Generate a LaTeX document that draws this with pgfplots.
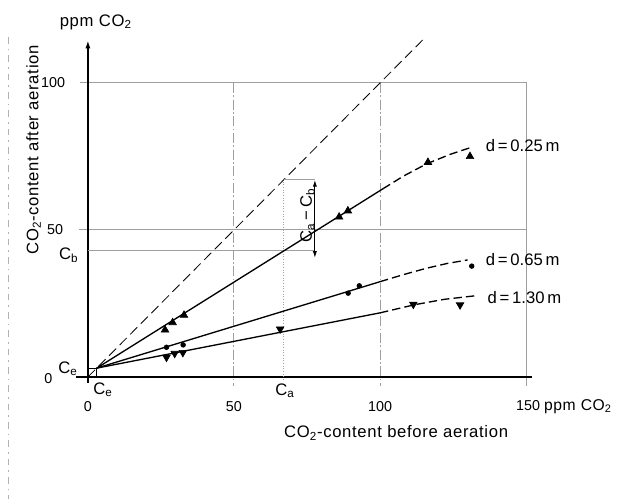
\documentclass[border=0pt]{standalone}
\usepackage{pgfplots}
\pgfplotsset{compat=1.18}
\usepackage{fontspec}
\setmainfont{Liberation Sans}
\newfontfamily\spaced[LetterSpace=4]{Liberation Sans}
\usetikzlibrary{arrows.meta}
\tikzset{tick lbl/.style={font=\fontsize{8.6}{10}\selectfont}}

\begin{document}
\begin{tikzpicture}
\begin{axis}[
  scale only axis, width=372.6pt, height=299.4pt,
  xmin=-30.1, xmax=182.5, ymin=-41.5, ymax=128.2,
  hide axis, clip=false,
  every node/.append style={font=\fontsize{9}{10}\selectfont, inner sep=1pt},
]
% page frame (keeps the picture's proportions)
\addplot[draw=none, forget plot] coordinates {(-30.1,-41.5) (182.5,128.2)};

% scan edge on the left
\draw[gray!60, line width=0.4pt, dash pattern=on 4pt off 3pt on 1pt off 3pt] (-27.4,115.6) -- (-27.4,-41.5);

% grid frame
\draw[gray!75, line width=0.6pt] (-2.7,100) -- (150,100) -- (150,-3);
\draw[gray!75, line width=0.6pt] (-3,50) -- (150,50);
\draw[gray!75, line width=0.6pt, dash pattern=on 6pt off 1.5pt on 1pt off 1.5pt] (50,100) -- (50,-3);
\draw[gray!75, line width=0.6pt, dash pattern=on 6pt off 1.5pt on 1pt off 1.5pt] (100,100) -- (100,-3);

% axes
\draw[black, line width=1.1pt] (-4,0) -- (152,0);
\draw[black, line width=1.1pt, -{Latex[length=5pt,width=3pt]}] (0,-2) -- (0,114.6);

% y = x
\draw[black, line width=0.5pt, dash pattern=on 6pt off 3pt] (0,0) -- (115,115);

% construction of Ca - Cb
\draw[gray!75, line width=0.6pt, densely dotted] (67,-1) -- (67,67);
\draw[gray!75, line width=0.6pt] (67,67) -- (77.7,67);
\draw[gray!75, line width=0.6pt] (0,43) -- (77.7,43);
\draw[black, line width=0.6pt, {Latex[length=4pt,width=2.5pt]}-{Latex[length=4pt,width=2.5pt]}] (77.7,67) -- (77.7,40.5);
\node[rotate=90] at (75.2,55) {C\textsubscript{a}\,−\,C\textsubscript{b}};

% Ce marks
\draw[black, line width=0.4pt] (0,3) -- (3,3) -- (3,0);

% d = 0.25 m
\addplot[black, line width=0.8pt] coordinates {(3,3) (101,64)};
\addplot[black, line width=0.8pt, dash pattern=on 5pt off 2.5pt] coordinates {(101,64) (108,68.3) (116,72.5) (124,75.7) (131,78)};
\addplot[only marks, mark=triangle*, mark size=2.6pt, mark options={black, fill=black}] coordinates {
  (26.4,16) (29,18.5) (32.9,21) (86,54.4) (89,56.5) (116.4,73) (130.8,75)};

% d = 0.65 m
\addplot[black, line width=0.8pt] coordinates {(3,3) (100,32.4)};
\addplot[black, line width=0.8pt, dash pattern=on 5pt off 2.5pt] coordinates {(100,32.4) (108,34.8) (116,37) (123,38.6) (130,39.8)};
\addplot[only marks, mark=*, mark size=1.4pt, mark options={black, fill=black}] coordinates {
  (26.9,10.1) (32.6,10.9) (89.1,28.5) (92.9,31) (131.4,37.7)};

% d = 1.30 m
\addplot[black, line width=0.8pt] coordinates {(3,3) (100,21.8)};
\addplot[black, line width=0.8pt, dash pattern=on 5pt off 2.5pt] coordinates {(100,21.8) (112,24.6) (122,26.4) (132.5,27.6)};
\addplot[only marks, mark=triangle*, mark size=2.6pt, mark options={black, fill=black, rotate=180}] coordinates {
  (26.9,6.7) (29.7,8.0) (32.5,8.3) (65.8,16.3) (111.4,24.7) (127.4,24.5)};

% curve labels
\node[anchor=west] at (134.2,78.6) {d\,=\,0.25\,m};
\node[anchor=west] at (134.2,39.8) {d\,=\,0.65\,m};
\node[anchor=west] at (134.8,27) {d\,=\,1.30\,m};

% tick labels
\node[tick lbl, anchor=east] at (-5.8,100) {100};
\node[tick lbl, anchor=east] at (-6.5,50) {50};
\node[tick lbl, anchor=east] at (-10.2,-0.5) {0};
\node[anchor=east] at (-1.2,41.5) {C\textsubscript{b}};
\node[anchor=east] at (-1.5,2.8) {C\textsubscript{e}};
\node at (5.2,-4.3) {C\textsubscript{e}};
\node at (67.5,-4.6) {C\textsubscript{a}};
\node[tick lbl] at (0,-10) {0};
\node[tick lbl] at (50,-10) {50};
\node[tick lbl] at (100,-10) {100};
\node[tick lbl, anchor=west] at (144.6,-10) {150 {\fontsize{9.4}{10}\spaced ppm CO\textsubscript{2}}};

% axis labels
\node[font=\fontsize{10}{11}\selectfont] at (2.7,120.7) {\spaced ppm CO\textsubscript{2}};
\node[rotate=90, font=\fontsize{10}{11}\selectfont] at (-18.6,77.2) {\spaced CO\textsubscript{2}-content after aeration};
\node[font=\fontsize{10}{11}\selectfont] at (105.5,-19) {\spaced CO\textsubscript{2}-content before aeration};
\end{axis}
\end{tikzpicture}
\end{document}
